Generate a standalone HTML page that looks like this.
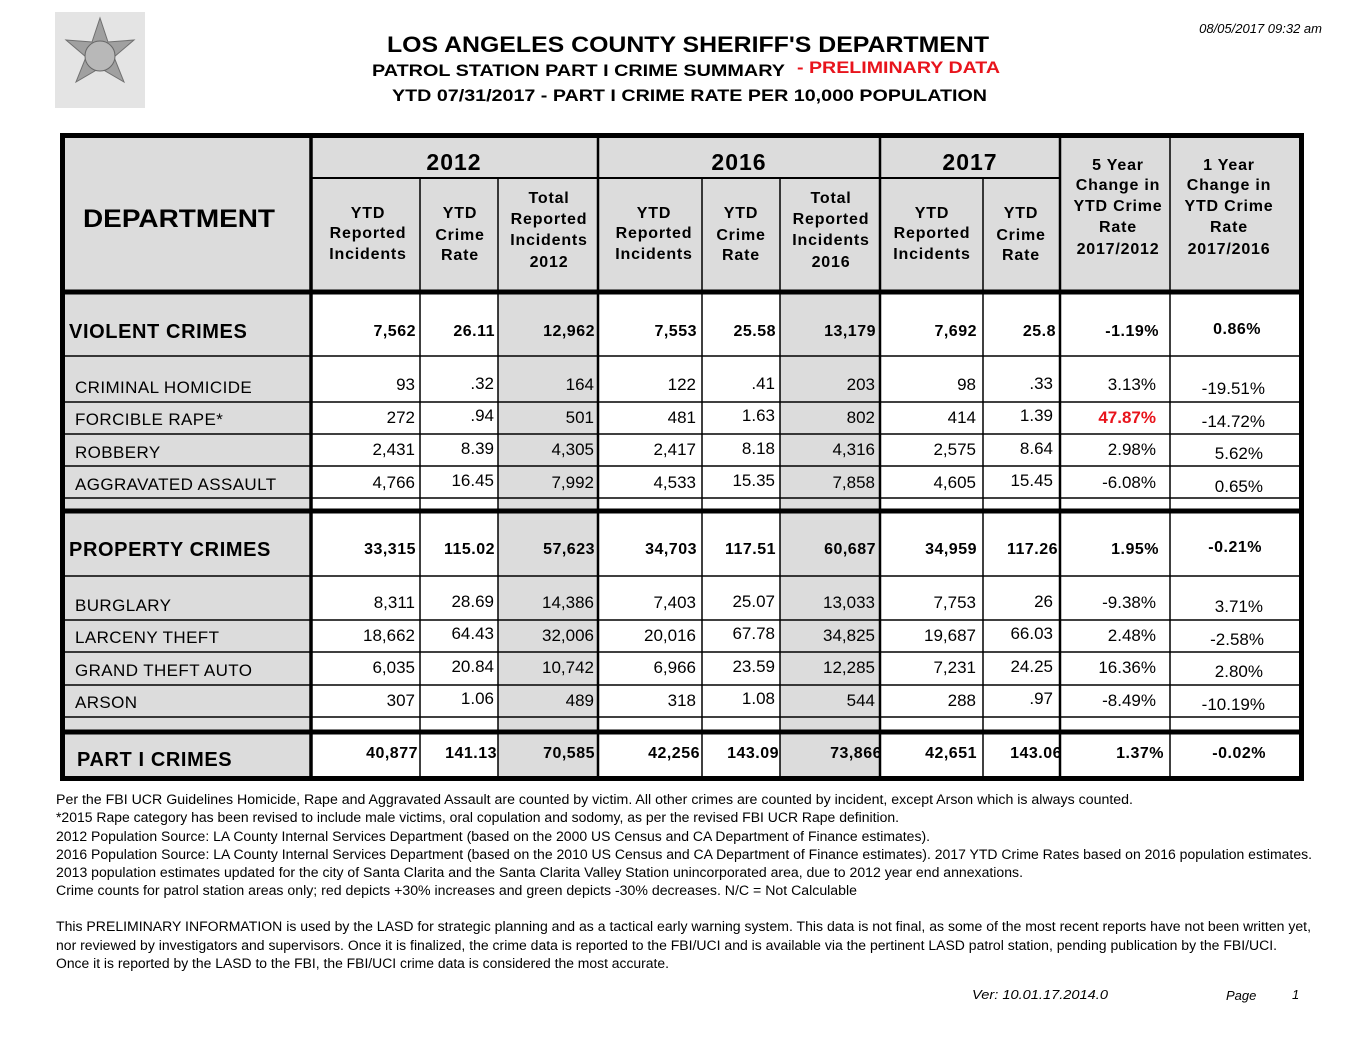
<!DOCTYPE html>
<html><head><meta charset="utf-8"><style>
html,body{margin:0;padding:0;background:#fff}
svg{display:block}
text{font-family:"Liberation Sans",Arial,sans-serif}
.h{font-weight:bold;font-size:16px;letter-spacing:0.8px;text-anchor:middle}
.y{font-weight:bold;font-size:23px;text-anchor:middle;letter-spacing:1px}
.n{font-size:17px;text-anchor:end}
.b{font-weight:bold;font-size:16px;text-anchor:end;letter-spacing:0.5px}
.l{font-size:17px;letter-spacing:0.4px}
.c{font-weight:bold;font-size:20px;letter-spacing:0.6px}
.f{font-size:13.5px}
</style></head><body>
<svg width="1368" height="1054" viewBox="0 0 1368 1054" xmlns="http://www.w3.org/2000/svg">
<rect x="55" y="12" width="90" height="96" fill="#e4e4e4"/>
<polygon points="100,18 108,42 134,40 114,57 124,82 100,68 76,82 86,57 66,40 92,42" fill="#a0a0a0" stroke="#707070"/>
<circle cx="100" cy="56" r="15" fill="#b8b8b8" stroke="#666"/>
<text x="1322" y="33" font-size="13" font-style="italic" text-anchor="end">08/05/2017 09:32 am</text>
<text x="387" y="52" font-size="22" font-weight="bold" textLength="602" lengthAdjust="spacingAndGlyphs">LOS ANGELES COUNTY SHERIFF'S DEPARTMENT</text>
<text x="372" y="76" font-size="17" font-weight="bold" textLength="413" lengthAdjust="spacingAndGlyphs">PATROL STATION PART I CRIME SUMMARY</text>
<text x="797" y="73" font-size="17" font-weight="bold" fill="#e8141c" textLength="203" lengthAdjust="spacingAndGlyphs">- PRELIMINARY DATA</text>
<text x="392" y="101" font-size="17" font-weight="bold" textLength="595" lengthAdjust="spacingAndGlyphs">YTD 07/31/2017 - PART I CRIME RATE PER 10,000 POPULATION</text>

<rect x="63" y="136" width="1239" height="156" fill="#dcdcdc"/>
<rect x="63" y="292" width="247" height="487" fill="#dcdcdc"/>
<rect x="498" y="292" width="100" height="440" fill="#dcdcdc"/>
<rect x="780" y="292" width="100" height="440" fill="#dcdcdc"/>
<rect x="498" y="735" width="100" height="44" fill="#dcdcdc"/>
<rect x="780" y="735" width="100" height="44" fill="#dcdcdc"/>

<g stroke="#000" fill="none">
<line x1="310" y1="178" x2="1060" y2="178" stroke-width="2"/>
<g stroke-width="1.5">
<line x1="63" y1="356" x2="1300" y2="356"/>
<line x1="63" y1="402" x2="1300" y2="402"/>
<line x1="63" y1="434" x2="1300" y2="434"/>
<line x1="63" y1="466" x2="1300" y2="466"/>
<line x1="63" y1="498" x2="1300" y2="498"/>
<line x1="63" y1="576" x2="1300" y2="576"/>
<line x1="63" y1="620" x2="1300" y2="620"/>
<line x1="63" y1="652" x2="1300" y2="652"/>
<line x1="63" y1="685" x2="1300" y2="685"/>
<line x1="63" y1="717" x2="1300" y2="717"/>
</g>
<g stroke-width="1.5">
<line x1="420" y1="178" x2="420" y2="779"/>
<line x1="498" y1="178" x2="498" y2="779"/>
<line x1="702" y1="178" x2="702" y2="779"/>
<line x1="780" y1="178" x2="780" y2="779"/>
<line x1="983" y1="178" x2="983" y2="779"/>
<line x1="1170" y1="136" x2="1170" y2="779"/>
</g>
<g stroke-width="2.5">
<line x1="598" y1="136" x2="598" y2="779"/>
<line x1="880" y1="136" x2="880" y2="779"/>
<line x1="1060" y1="136" x2="1060" y2="779"/>
<line x1="311" y1="136" x2="311" y2="779" stroke-width="3.5"/>
</g>
<line x1="60" y1="292" x2="1304" y2="292" stroke-width="5"/>
<line x1="60" y1="511" x2="1304" y2="511" stroke-width="5"/>
<line x1="60" y1="732" x2="1304" y2="732" stroke-width="5"/>
<rect x="62.5" y="135.5" width="1239" height="643" stroke-width="5"/>
</g>

<text x="83" y="227" font-size="25" font-weight="bold" textLength="192" lengthAdjust="spacingAndGlyphs">DEPARTMENT</text>
<text class="y" x="454" y="170">2012</text>
<text class="y" x="739" y="170">2016</text>
<text class="y" x="970" y="170">2017</text>
<g class="h">
<text x="368" y="218" class="h">YTD</text><text x="368" y="238" class="h">Reported</text><text x="368" y="259" class="h">Incidents</text>
<text x="460" y="218" class="h">YTD</text><text x="460" y="240" class="h">Crime</text><text x="460" y="260" class="h">Rate</text>
<text x="549" y="203" class="h">Total</text><text x="549" y="224" class="h">Reported</text><text x="549" y="245" class="h">Incidents</text><text x="549" y="267" class="h">2012</text>
<text x="654" y="218" class="h">YTD</text><text x="654" y="238" class="h">Reported</text><text x="654" y="259" class="h">Incidents</text>
<text x="741" y="218" class="h">YTD</text><text x="741" y="240" class="h">Crime</text><text x="741" y="260" class="h">Rate</text>
<text x="831" y="203" class="h">Total</text><text x="831" y="224" class="h">Reported</text><text x="831" y="245" class="h">Incidents</text><text x="831" y="267" class="h">2016</text>
<text x="932" y="218" class="h">YTD</text><text x="932" y="238" class="h">Reported</text><text x="932" y="259" class="h">Incidents</text>
<text x="1021" y="218" class="h">YTD</text><text x="1021" y="240" class="h">Crime</text><text x="1021" y="260" class="h">Rate</text>
<text x="1118" y="170" class="h">5 Year</text><text x="1118" y="190" class="h">Change in</text><text x="1118" y="211" class="h">YTD Crime</text><text x="1118" y="232" class="h">Rate</text><text x="1118" y="254" class="h">2017/2012</text>
<text x="1229" y="170" class="h">1 Year</text><text x="1229" y="190" class="h">Change in</text><text x="1229" y="211" class="h">YTD Crime</text><text x="1229" y="232" class="h">Rate</text><text x="1229" y="254" class="h">2017/2016</text>
</g>

<text class="c" x="69" y="338">VIOLENT CRIMES</text>
<text class="l" x="75" y="393">CRIMINAL HOMICIDE</text>
<text class="l" x="75" y="425">FORCIBLE RAPE*</text>
<text class="l" x="75" y="458">ROBBERY</text>
<text class="l" x="75" y="490">AGGRAVATED ASSAULT</text>
<text class="c" x="69" y="556">PROPERTY CRIMES</text>
<text class="l" x="75" y="611">BURGLARY</text>
<text class="l" x="75" y="643">LARCENY THEFT</text>
<text class="l" x="75" y="676">GRAND THEFT AUTO</text>
<text class="l" x="75" y="708">ARSON</text>
<text class="c" x="77" y="766">PART I CRIMES</text>

<g>
<text class="b" x="416" y="336">7,562</text><text class="b" x="495" y="336">26.11</text><text class="b" x="595" y="336">12,962</text>
<text class="b" x="697" y="336">7,553</text><text class="b" x="776" y="336">25.58</text><text class="b" x="876" y="336">13,179</text>
<text class="b" x="977" y="336">7,692</text><text class="b" x="1056" y="336">25.8</text><text class="b" x="1159" y="336">-1.19%</text><text class="b" x="1261" y="334">0.86%</text>
<text class="b" x="416" y="554">33,315</text><text class="b" x="495" y="554">115.02</text><text class="b" x="595" y="554">57,623</text>
<text class="b" x="697" y="554">34,703</text><text class="b" x="776" y="554">117.51</text><text class="b" x="876" y="554">60,687</text>
<text class="b" x="977" y="554">34,959</text><text class="b" x="1058" y="554">117.26</text><text class="b" x="1159" y="554">1.95%</text><text class="b" x="1262" y="552">-0.21%</text>
<text class="b" x="418" y="758">40,877</text><text class="b" x="497" y="758">141.13</text><text class="b" x="595" y="758">70,585</text>
<text class="b" x="700" y="758">42,256</text><text class="b" x="779" y="758">143.09</text><text class="b" x="882" y="758">73,866</text>
<text class="b" x="977" y="758">42,651</text><text class="b" x="1062" y="758">143.06</text><text class="b" x="1164" y="758">1.37%</text><text class="b" x="1266" y="758">-0.02%</text>
</g>
<g>
<text class="n" x="415" y="390">93</text><text class="n" x="494" y="389">.32</text><text class="n" x="594" y="390">164</text><text class="n" x="696" y="390">122</text><text class="n" x="775" y="389">.41</text><text class="n" x="875" y="390">203</text><text class="n" x="976" y="390">98</text><text class="n" x="1053" y="389">.33</text><text class="n" x="1156" y="390">3.13%</text><text class="n" x="1265" y="394">-19.51%</text>
<text class="n" x="415" y="423">272</text><text class="n" x="494" y="421">.94</text><text class="n" x="594" y="423">501</text><text class="n" x="696" y="423">481</text><text class="n" x="775" y="421">1.63</text><text class="n" x="875" y="423">802</text><text class="n" x="976" y="423">414</text><text class="n" x="1053" y="421">1.39</text><text class="n" x="1156" y="423" fill="#e8141c" font-weight="bold">47.87%</text><text class="n" x="1265" y="427">-14.72%</text>
<text class="n" x="415" y="455">2,431</text><text class="n" x="494" y="454">8.39</text><text class="n" x="594" y="455">4,305</text><text class="n" x="696" y="455">2,417</text><text class="n" x="775" y="454">8.18</text><text class="n" x="875" y="455">4,316</text><text class="n" x="976" y="455">2,575</text><text class="n" x="1053" y="454">8.64</text><text class="n" x="1156" y="455">2.98%</text><text class="n" x="1263" y="459">5.62%</text>
<text class="n" x="415" y="488">4,766</text><text class="n" x="494" y="486">16.45</text><text class="n" x="594" y="488">7,992</text><text class="n" x="696" y="488">4,533</text><text class="n" x="775" y="486">15.35</text><text class="n" x="875" y="488">7,858</text><text class="n" x="976" y="488">4,605</text><text class="n" x="1053" y="486">15.45</text><text class="n" x="1156" y="488">-6.08%</text><text class="n" x="1263" y="492">0.65%</text>
<text class="n" x="415" y="608">8,311</text><text class="n" x="494" y="607">28.69</text><text class="n" x="594" y="608">14,386</text><text class="n" x="696" y="608">7,403</text><text class="n" x="775" y="607">25.07</text><text class="n" x="875" y="608">13,033</text><text class="n" x="976" y="608">7,753</text><text class="n" x="1053" y="607">26</text><text class="n" x="1156" y="608">-9.38%</text><text class="n" x="1263" y="612">3.71%</text>
<text class="n" x="415" y="641">18,662</text><text class="n" x="494" y="639">64.43</text><text class="n" x="594" y="641">32,006</text><text class="n" x="696" y="641">20,016</text><text class="n" x="775" y="639">67.78</text><text class="n" x="875" y="641">34,825</text><text class="n" x="976" y="641">19,687</text><text class="n" x="1053" y="639">66.03</text><text class="n" x="1156" y="641">2.48%</text><text class="n" x="1264" y="645">-2.58%</text>
<text class="n" x="415" y="673">6,035</text><text class="n" x="494" y="672">20.84</text><text class="n" x="594" y="673">10,742</text><text class="n" x="696" y="673">6,966</text><text class="n" x="775" y="672">23.59</text><text class="n" x="875" y="673">12,285</text><text class="n" x="976" y="673">7,231</text><text class="n" x="1053" y="672">24.25</text><text class="n" x="1156" y="673">16.36%</text><text class="n" x="1263" y="677">2.80%</text>
<text class="n" x="415" y="706">307</text><text class="n" x="494" y="704">1.06</text><text class="n" x="594" y="706">489</text><text class="n" x="696" y="706">318</text><text class="n" x="775" y="704">1.08</text><text class="n" x="875" y="706">544</text><text class="n" x="976" y="706">288</text><text class="n" x="1053" y="704">.97</text><text class="n" x="1156" y="706">-8.49%</text><text class="n" x="1265" y="710">-10.19%</text>
</g>

<g>
<text class="f" x="56" y="804" textLength="1077" lengthAdjust="spacingAndGlyphs">Per the FBI UCR Guidelines Homicide, Rape and Aggravated Assault are counted by victim. All other crimes are counted by incident, except Arson which is always counted.</text>
<text class="f" x="56" y="822" textLength="843" lengthAdjust="spacingAndGlyphs">*2015 Rape category has been revised to include male victims, oral copulation and sodomy, as per the revised FBI UCR Rape definition.</text>
<text class="f" x="56" y="841" textLength="874" lengthAdjust="spacingAndGlyphs">2012 Population Source: LA County Internal Services Department (based on the 2000 US Census and CA Department of Finance estimates).</text>
<text class="f" x="56" y="859" textLength="1256" lengthAdjust="spacingAndGlyphs">2016 Population Source: LA County Internal Services Department (based on the 2010 US Census and CA Department of Finance estimates).  2017 YTD Crime Rates based on 2016 population estimates.</text>
<text class="f" x="56" y="877" textLength="967" lengthAdjust="spacingAndGlyphs">2013 population estimates updated for the city of Santa Clarita and the Santa Clarita Valley Station unincorporated area, due to 2012 year end annexations.</text>
<text class="f" x="56" y="895" textLength="801" lengthAdjust="spacingAndGlyphs">Crime counts for patrol station areas only; red depicts +30% increases and green depicts -30% decreases. N/C = Not Calculable</text>
<text class="f" x="56" y="931" textLength="1255" lengthAdjust="spacingAndGlyphs">This PRELIMINARY INFORMATION is used by the LASD for strategic planning and as a tactical early warning system. This data is not final, as some of the most recent reports have not been written yet,</text>
<text class="f" x="56" y="950" textLength="1221" lengthAdjust="spacingAndGlyphs">nor reviewed by investigators and supervisors. Once it is finalized, the crime data is reported to the FBI/UCI and is available via the pertinent LASD patrol station, pending publication by the FBI/UCI.</text>
<text class="f" x="56" y="968" textLength="613" lengthAdjust="spacingAndGlyphs">Once it is reported by the LASD to the FBI, the FBI/UCI crime data is considered the most accurate.</text>
<text font-size="13" x="972" y="999" font-style="italic" textLength="136" lengthAdjust="spacingAndGlyphs">Ver:  10.01.17.2014.0</text>
<text font-size="13" x="1226" y="1000" font-style="italic">Page</text>
<text font-size="13" x="1292" y="999" font-style="italic">1</text>
</g>
</svg>
</body></html>
